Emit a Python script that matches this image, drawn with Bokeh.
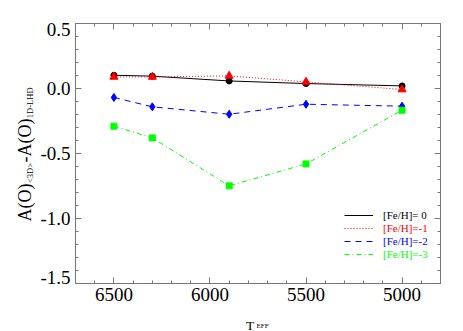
import math
from bokeh.plotting import figure
from bokeh.models import (Range1d, LinearAxis, SingleIntervalTicker,
                          Legend, LegendItem, ColumnDataSource)
from bokeh.layouts import row, column
from bokeh.core.properties import value
from bokeh.embed import file_html
from bokeh.resources import INLINE

# ---- data ----
teff = [6500, 6300, 5900, 5500, 5000]
feh_0 = [0.102, 0.095, 0.058, 0.038, 0.020]
feh_m1 = [0.089, 0.089, 0.097, 0.051, -0.008]
feh_m2 = [-0.069, -0.141, -0.198, -0.121, -0.136]
feh_m3 = [-0.290, -0.380, -0.749, -0.580, -0.167]
labels = ["[Fe/H]= 0", "[Fe/H]=-1", "[Fe/H]=-2", "[Fe/H]=-3"]
x_tick_interval = 500
y_tick_interval = 0.5
y_tick_values = [0.5, 0.0, -0.5, -1.0, -1.5]
y_tick_labels = ["0.5", "0.0", "-0.5", "-1.0", "-1.5"]

FONT = "Liberation Serif"
AX = "#777777"
Y_LO, Y_HI = -1.5, 0.5

# ---------------- main plot ----------------
p = figure(width=391, height=309, output_backend="svg", toolbar_location=None,
           x_range=Range1d(6700, 4800), y_range=Range1d(Y_LO, Y_HI),
           min_border_left=3, min_border_right=23, min_border_top=23,
           min_border_bottom=26, x_axis_type=None, y_axis_type=None)
p.outline_line_color = AX
p.background_fill_color = "white"
p.border_fill_color = "white"


def make_axis(kind, show_labels, standoff):
    if kind == "x":
        t = SingleIntervalTicker(interval=x_tick_interval, num_minor_ticks=5)
    else:
        t = SingleIntervalTicker(interval=y_tick_interval, num_minor_ticks=5)
    a = LinearAxis(ticker=t)
    a.axis_line_color = AX
    a.major_tick_line_color = AX
    a.minor_tick_line_color = AX
    a.major_tick_in = 6
    a.major_tick_out = 0
    a.minor_tick_in = 3
    a.minor_tick_out = 0
    a.major_label_text_font = FONT
    if show_labels:
        a.major_label_text_color = "black"
        a.major_label_text_font_size = "19px"
        a.major_label_standoff = standoff
    else:
        a.major_label_text_color = None
        a.major_label_text_font_size = "1px"
        a.major_label_standoff = 0
    return a


p.add_layout(make_axis("x", True, 4), "below")
p.add_layout(make_axis("x", False, 0), "above")
p.add_layout(make_axis("y", False, 0), "left")
p.add_layout(make_axis("y", False, 0), "right")

series = [
    (feh_0, "black", "solid", "circle", 6),
    (feh_m1, "#ff0000", "1 2", "triangle", 8),
    (feh_m2, "#0000ff", "6 5", "diamond", 8),
    (feh_m3, "#00ff00", "5 3 1 3", "square", 6),
]
line_renderers = []
for ys, col, dash, marker, size in series:
    r = p.line(teff, ys, line_color=col, line_width=1, line_dash=dash)
    p.scatter(teff, ys, marker=marker, size=size, fill_color=col,
              line_color=col)
    line_renderers.append(r)

# one legend per entry so that each label has its own colour
leg_y = [62.5, 49.5, 36.5, 23.5]
for lab, r, s, ly in zip(labels, line_renderers, series, leg_y):
    col = s[1]
    lg = Legend(items=[LegendItem(label=lab, renderers=[r])],
                location=(269, ly), padding=0, margin=0, spacing=0,
                glyph_width=29, glyph_height=12, label_height=12,
                label_standoff=10, label_text_font=FONT,
                label_text_font_size="11px", label_text_color=col,
                border_line_alpha=0, background_fill_alpha=0)
    p.add_layout(lg, "center")


def text_fig(w, h):
    f = figure(frame_width=w, frame_height=h, output_backend="svg",
               toolbar_location=None, x_range=Range1d(0, w),
               y_range=Range1d(0, h), title=None,
               min_border=0, min_border_left=0, min_border_right=0,
               min_border_top=0, min_border_bottom=0,
               x_axis_type=None, y_axis_type=None)
    f.outline_line_color = None
    f.xgrid.visible = False
    f.ygrid.visible = False
    f.background_fill_color = "white"
    f.border_fill_color = "white"
    return f


# ---------------- x title  T_EFF ----------------
xf = text_fig(391, 22)
xf.text(x=[170.5], y=[6.3], text=["T"], text_font=value(FONT),
        text_font_size="13.5px", text_baseline="alphabetic", text_align="left")
xf.text(x=[181.0], y=[5.3], text=["EFF"], text_font=value(FONT),
        text_font_size="7px", text_baseline="alphabetic", text_align="left")

# ---------------- left strip: y tick labels + y title ----------------
yf = text_fig(72, 331)
# value range aligned with the main frame (frame: 23 px from top, 48 px from bottom, 260 px tall)
span = Y_HI - Y_LO
yf.extra_y_ranges = {"val": Range1d(Y_LO - span * 48 / 260, Y_HI + span * 23 / 260)}
# IDL keeps the end labels inside the axis extent (positive offset = downwards)
offs = [6 if v == Y_HI else (-6 if v == Y_LO else 0) for v in y_tick_values]
src = ColumnDataSource(dict(y=y_tick_values, t=y_tick_labels, off=offs,
                            x=[70] * len(y_tick_values)))
yf.text(x="x", y="y", text="t", y_offset="off", source=src, y_range_name="val",
        text_font=value(FONT), text_font_size="19px", text_align="right",
        text_baseline="middle", text_color="black")

L, S = 18, 8.5
segs = [("A(O)", L, 2.11, 24.0), ("<3D>", S, 2.35, 29.5),
        ("-A(O)", L, 2.44, 24.0), ("1D-LHD", S, 3.61, 29.5)]
yy = 110.0
for txt, fs, em, bx in segs:
    yf.text(x=[bx], y=[yy], text=[txt], angle=math.pi / 2,
            text_font=value(FONT), text_font_size=f"{fs}px",
            text_baseline="alphabetic", text_align="left")
    yy += fs * em + 0.5

layout = row(yf, column(p, xf))
open("out.html", "w").write(file_html(layout, INLINE))
